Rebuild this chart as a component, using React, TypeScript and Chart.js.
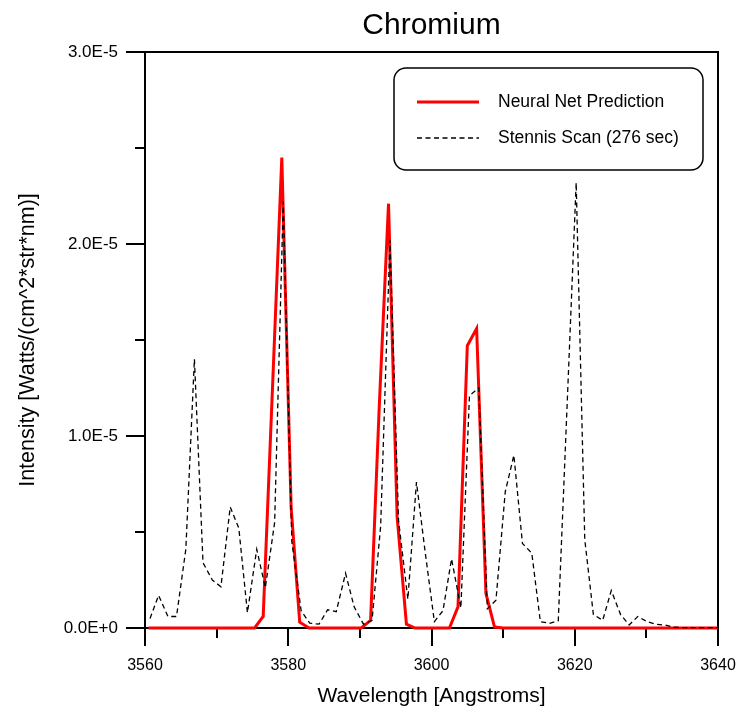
import { useEffect, useRef } from "react";
import { Chart, registerables } from "chart.js";

Chart.register(...registerables);

const chartTitle = "Chromium";
const xTitle = "Wavelength [Angstroms]";
const yTitle = "Intensity [Watts/(cm^2*str*nm)]";
const netLabel = "Neural Net Prediction";
const scanLabel = "Stennis Scan (276 sec)";

// Stennis scan (dashed), wavelengths in Angstroms, intensities in 1E-6 W/(cm^2 str nm)
const scanWavelengths = [
  3560.7, 3561.9, 3563.2, 3564.4, 3565.7, 3566.9, 3568.1, 3569.4, 3570.6, 3571.9,
  3573.1, 3574.3, 3575.6, 3576.8, 3578.1, 3579.3, 3580.5, 3581.8, 3583.0, 3584.3,
  3585.5, 3586.7, 3588.0, 3589.2, 3590.5, 3591.7, 3592.9, 3594.2, 3595.4, 3596.7,
  3597.9, 3599.1, 3600.4, 3601.6, 3602.8, 3604.1, 3605.3, 3606.6, 3607.8, 3609.0,
  3610.3, 3611.5, 3612.7, 3614.0, 3615.2, 3616.5, 3617.7, 3618.9, 3620.2, 3621.4,
  3622.6, 3623.9, 3625.1, 3626.4, 3627.6, 3628.8, 3630.1, 3631.3, 3632.5, 3633.8,
  3635.0, 3636.3, 3637.5, 3638.7, 3640.0,
];
const scanIntensityE6 = [
  0.5, 1.7, 0.6, 0.6, 4.1, 14.0, 3.4, 2.5, 2.15, 6.3,
  5.2, 0.8, 4.1, 2.1, 5.5, 22.2, 4.5, 0.9, 0.25, 0.2,
  0.95, 0.85, 2.85, 1.1, 0.2, 0.4, 5.3, 20.2, 5.6, 1.5,
  7.6, 4.0, 0.33, 0.9, 3.6, 1.05, 12.1, 12.5, 1.0, 1.45,
  7.1, 9.0, 4.4, 3.9, 0.33, 0.24, 0.38, 11.3, 23.2, 4.6,
  0.7, 0.4, 1.95, 0.7, 0.16, 0.6, 0.33, 0.19, 0.16, 0.04,
  0.02, 0.02, 0.02, 0.02, 0.02,
];

// Neural net prediction (solid red)
const netWavelengths = [
  3560.5, 3575.3, 3576.5, 3577.8, 3579.1, 3580.4, 3581.6, 3582.9,
  3590.2, 3591.5, 3592.7, 3594.0, 3595.2, 3596.5, 3597.7,
  3602.5, 3603.7, 3605.0, 3606.3, 3607.6, 3608.8, 3610.0, 3640.0,
];
const netIntensityE6 = [
  0, 0, 0.6, 12.5, 24.5, 6.3, 0.3, 0,
  0, 0.4, 11.5, 22.1, 5.8, 0.2, 0,
  0, 1.1, 14.7, 15.6, 1.8, 0.05, 0, 0,
];

const xMajorTicks = [3560, 3580, 3600, 3620, 3640];
const xMinorTicks = [3570, 3590, 3610, 3630];
const yMajorTicks = [0, 1e-5, 2e-5, 3e-5];
const yMinorTicks = [0.5e-5, 1.5e-5, 2.5e-5];
const yTickLabels = ["0.0E+0", "1.0E-5", "2.0E-5", "3.0E-5"];

const FONT = '"Liberation Sans", Arial, Helvetica, sans-serif';

const decorPlugin = {
  id: "decor",
  beforeDatasetsDraw(chart: any) {
    const { ctx, chartArea: a, scales } = chart;
    const x = scales.x;
    const y = scales.y;
    ctx.save();
    ctx.strokeStyle = "#000";
    ctx.lineWidth = 2;
    ctx.strokeRect(a.left, a.top, a.right - a.left, a.bottom - a.top);
    ctx.beginPath();
    xMajorTicks.forEach((v) => {
      const px = Math.round(x.getPixelForValue(v));
      ctx.moveTo(px, a.bottom);
      ctx.lineTo(px, a.bottom + 18);
    });
    xMinorTicks.forEach((v) => {
      const px = Math.round(x.getPixelForValue(v));
      ctx.moveTo(px, a.bottom);
      ctx.lineTo(px, a.bottom + 10);
    });
    yMajorTicks.forEach((v) => {
      const py = Math.round(y.getPixelForValue(v));
      ctx.moveTo(a.left, py);
      ctx.lineTo(a.left - 19, py);
    });
    yMinorTicks.forEach((v) => {
      const py = Math.round(y.getPixelForValue(v));
      ctx.moveTo(a.left, py);
      ctx.lineTo(a.left - 10, py);
    });
    ctx.stroke();
    ctx.restore();
  },
  afterDatasetsDraw(chart: any) {
    const { ctx, chartArea: a } = chart;
    ctx.save();
    // title
    ctx.fillStyle = "#000";
    ctx.font = `30px ${FONT}`;
    ctx.textAlign = "center";
    ctx.textBaseline = "alphabetic";
    ctx.fillText(chartTitle, (a.left + a.right) / 2, 34);

    // legend box
    const bx = 394, by = 68, bw = 309, bh = 102, r = 12;
    ctx.beginPath();
    ctx.moveTo(bx + r, by);
    ctx.arcTo(bx + bw, by, bx + bw, by + bh, r);
    ctx.arcTo(bx + bw, by + bh, bx, by + bh, r);
    ctx.arcTo(bx, by + bh, bx, by, r);
    ctx.arcTo(bx, by, bx + bw, by, r);
    ctx.closePath();
    ctx.fillStyle = "#fff";
    ctx.fill();
    ctx.lineWidth = 1.5;
    ctx.strokeStyle = "#000";
    ctx.stroke();

    const ds = chart.data.datasets;
    const rows = [
      { d: ds[0], y: 102 },
      { d: ds[1], y: 138 },
    ];
    rows.forEach(({ d, y }) => {
      ctx.beginPath();
      ctx.strokeStyle = d.borderColor;
      ctx.lineWidth = d.borderWidth;
      ctx.setLineDash(d.borderDash || []);
      ctx.moveTo(417, y);
      ctx.lineTo(479, y);
      ctx.stroke();
      ctx.setLineDash([]);
      ctx.fillStyle = "#000";
      ctx.font = `17.5px ${FONT}`;
      ctx.textAlign = "left";
      ctx.textBaseline = "middle";
      ctx.fillText(d.label, 498, y);
    });
    ctx.restore();
  },
};

export default function App() {
  const canvasRef = useRef<HTMLCanvasElement | null>(null);

  useEffect(() => {
    const canvas = canvasRef.current;
    if (!canvas) return;
    const netData = netWavelengths.map((w, i) => ({ x: w, y: netIntensityE6[i] * 1e-6 }));
    const scanData = scanWavelengths.map((w, i) => ({ x: w, y: scanIntensityE6[i] * 1e-6 }));

    const chart = new Chart(canvas, {
      type: "line",
      data: {
        datasets: [
          {
            label: netLabel,
            data: netData,
            borderColor: "#ff0000",
            borderWidth: 3,
            pointRadius: 0,
            fill: false,
            tension: 0,
            order: 2,
            clip: false,
          },
          {
            label: scanLabel,
            data: scanData,
            borderColor: "#000000",
            borderWidth: 1.3,
            borderDash: [5, 3.5],
            pointRadius: 0,
            fill: false,
            tension: 0,
            order: 1,
            clip: false,
          },
        ],
      },
      options: {
        animation: false,
        responsive: false,
        layout: { padding: { top: 52, right: 23, left: 0, bottom: 0 } },
        plugins: {
          legend: { display: false },
          title: { display: false },
          tooltip: { enabled: false },
        },
        scales: {
          x: {
            type: "linear",
            min: 3560,
            max: 3640,
            grid: { display: false, drawTicks: false },
            border: { display: false },
            afterBuildTicks: (s: any) => {
              s.ticks = xMajorTicks.map((v) => ({ value: v }));
            },
            afterFit: (s: any) => {
              s.height = 87;
              s.paddingLeft = 0;
              s.paddingRight = 0;
            },
            ticks: {
              color: "#000",
              padding: 28,
              maxRotation: 0,
              font: { family: FONT, size: 16 },
              callback: (v: any) => String(v),
            },
            title: {
              display: true,
              text: xTitle,
              color: "#000",
              font: { family: FONT, size: 21 },
              padding: { top: 0, bottom: 6 },
            },
          },
          y: {
            type: "linear",
            min: 0,
            max: 3e-5,
            grid: { display: false, drawTicks: false },
            border: { display: false },
            afterBuildTicks: (s: any) => {
              s.ticks = yMajorTicks.map((v) => ({ value: v }));
            },
            afterFit: (s: any) => {
              s.width = 145;
              s.paddingTop = 0;
              s.paddingBottom = 0;
            },
            ticks: {
              color: "#000",
              padding: 27,
              font: { family: FONT, size: 17 },
              callback: (v: any) => {
                const i = yMajorTicks.findIndex((t) => Math.abs(t - v) < 1e-9);
                return i >= 0 ? yTickLabels[i] : "";
              },
            },
            title: {
              display: true,
              text: yTitle,
              color: "#000",
              font: { family: FONT, size: 21.5 },
              padding: { top: 15, bottom: 0 },
            },
          },
        },
      },
      plugins: [decorPlugin],
    });
    return () => chart.destroy();
  }, []);

  return (
    <div style={{ position: "absolute", left: 0, top: 0, width: 741, height: 715 }}>
      <canvas ref={canvasRef} width={741} height={715} style={{ width: 741, height: 715 }} />
    </div>
  );
}
